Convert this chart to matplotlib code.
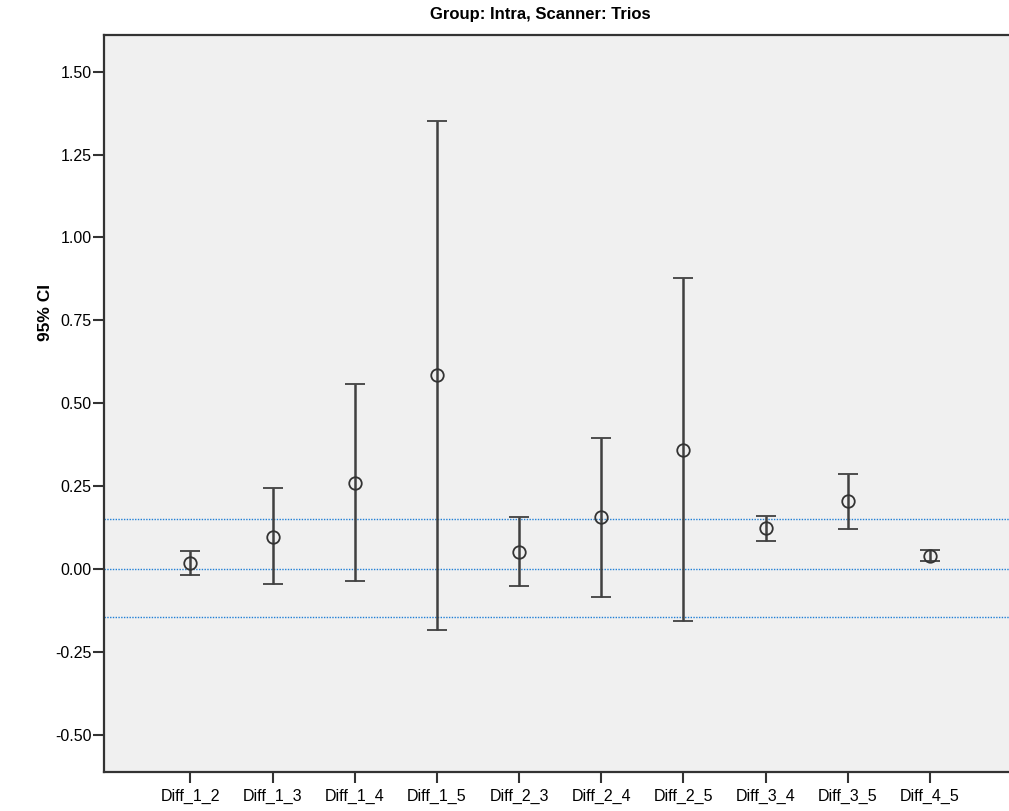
import matplotlib
matplotlib.use("Agg")
import matplotlib.pyplot as plt
import numpy as np

categories = ["Diff_1_2", "Diff_1_3", "Diff_1_4", "Diff_1_5", "Diff_2_3",
              "Diff_2_4", "Diff_2_5", "Diff_3_4", "Diff_3_5", "Diff_4_5"]
means = [0.018, 0.098, 0.260, 0.585, 0.052, 0.158, 0.360, 0.123, 0.205, 0.040]
upper = [0.054, 0.243, 0.558, 1.352, 0.156, 0.396, 0.877, 0.161, 0.287, 0.057]
lower = [-0.017, -0.046, -0.037, -0.183, -0.052, -0.085, -0.158, 0.085, 0.121, 0.025]
ref_lines = [0.15, 0.0, -0.145]
yticks = [1.50, 1.25, 1.00, 0.75, 0.50, 0.25, 0.00, -0.25, -0.50]

plt.rcParams['font.family'] = ['Liberation Sans', 'DejaVu Sans']

fig = plt.figure(figsize=(10.09, 8.11), dpi=100)
ax = fig.add_axes([104/1009, 1-772.3/811, 1-104/1009, (772.3-34.5)/811])
ax.set_facecolor('#f0f0f0')

x = np.arange(len(categories))
m = np.array(means)
yerr = np.vstack([m - np.array(lower), np.array(upper) - m])

for y in ref_lines:
    ax.axhline(y, color='#1f7fd6', linestyle=(0, (1, 1)), linewidth=1.0, zorder=1)

ax.errorbar(x, m, yerr=yerr, fmt='o', mfc='none', mec='#333333', ms=9,
            mew=1.3, ecolor='#404040', elinewidth=1.8, capsize=7.2,
            capthick=1.8, zorder=3)

ax.set_xlim(-1.05, 9.96)
ax.set_ylim(-0.613, 1.612)
ax.set_xticks(x)
ax.set_xticklabels(categories, fontsize=11.5)
ax.set_yticks(yticks)
ax.set_yticklabels([f"{v:.2f}" for v in yticks], fontsize=11.5)
ax.tick_params(axis='y', direction='out', length=8, width=1.5, color='#333333', pad=1)
ax.tick_params(axis='x', direction='out', length=8, width=1.5, color='#333333', pad=4)

for s in ['left', 'bottom', 'top']:
    ax.spines[s].set_linewidth(1.6)
    ax.spines[s].set_color('#333333')
ax.spines['right'].set_visible(False)

fig.text(540/1009, 1-14/811, "Group: Intra, Scanner: Trios", ha='center', va='center',
         fontsize=12, fontweight='bold')
fig.text(45/1009, 1-312/811, "95% CI", rotation=90, ha='center', va='center',
         fontsize=12.5, fontweight='bold')

fig.savefig("out.png", dpi=100, facecolor='white')
